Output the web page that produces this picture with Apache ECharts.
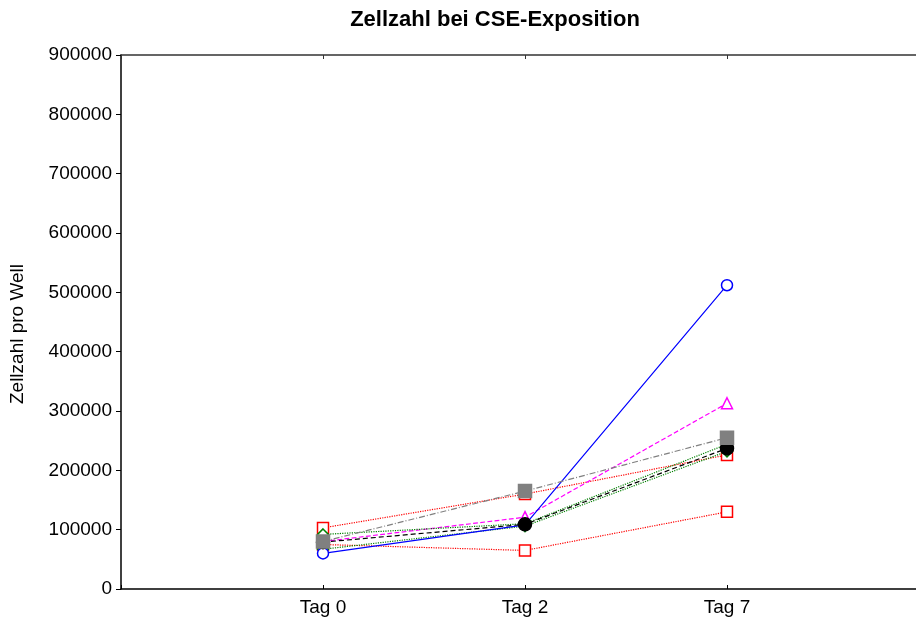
<!DOCTYPE html>
<html>
<head>
<meta charset="utf-8">
<script src="https://cdn.jsdelivr.net/npm/echarts@6/dist/echarts.min.js"></script>
<style>
  html, body { margin: 0; padding: 0; background: #fff; }
  #container { width: 916px; height: 625px; }
</style>
</head>
<body>
<div id="container"></div>
<script>
(function(){
    var dom = document.getElementById("container");
    var myChart = echarts.init(dom);

    // Kategorien (x-Positionen 1..3 auf der Achse 0..4)
    var tage = ['Tag 0', 'Tag 2', 'Tag 7'];
    var yTicks = [0, 100000, 200000, 300000, 400000, 500000, 600000, 700000, 800000, 900000];

    // Messwerte je Ansatz
    var blau    = [60000, 108000, 512000];
    var magenta = [80000, 121000, 313000];
    var grau    = [80000, 165000, 255000];
    var rot1    = [103000, 160000, 226000];
    var rot2    = [75000, 65000, 130000];
    var schwarz = [79000, 109000, 237000];
    var gruen1  = [92000, 110000, 244000];
    var gruen2  = [67000, 106000, 232000];

    function pts(arr){
        var out = [];
        for (var i = 0; i < arr.length; i++) {
            out.push([i + 1, arr[i]]);
        }
        return out;
    }

    function mk(name, data, color, type, symbol, size, fill, z){
        return {
            name: name,
            type: 'line',
            data: pts(data),
            symbol: symbol,
            symbolSize: size,
            showSymbol: true,
            animation: false,
            z: z || 2,
            lineStyle: { color: color, width: 1.2, type: type },
            itemStyle: { color: fill, borderColor: color, borderWidth: 1.5 }
        };
    }

    var option = {
        backgroundColor: '#fff',
        title: {
            text: 'Zellzahl bei CSE-Exposition',
            left: 490,
            top: 4,
            textAlign: 'center',
            textStyle: { fontFamily: 'Liberation Sans', fontSize: 22, fontWeight: 'bold', color: '#000' }
        },
        grid: { left: 121, top: 55, bottom: 36, right: -13, outerBoundsMode: 'none' },
        xAxis: [{
            type: 'value',
            min: 0, max: 4, interval: 1,
            position: 'bottom',
            axisLine: { lineStyle: { color: '#000', width: 1.5 } },
            axisTick: { inside: true, length: 4, lineStyle: { color: '#000' } },
            splitLine: { show: false },
            axisLabel: {
                color: '#000', fontFamily: 'Liberation Sans', fontSize: 19, margin: 9,
                formatter: function(v){ return tage[v - 1] || ''; }
            }
        }, {
            type: 'value',
            min: 0, max: 4, interval: 1,
            position: 'top',
            axisLine: { lineStyle: { color: '#333', width: 1.5 } },
            axisTick: { inside: true, length: 4, lineStyle: { color: '#333' } },
            splitLine: { show: false },
            axisLabel: { show: false }
        }],
        yAxis: {
            type: 'value',
            min: 0, max: 900000, interval: 100000,
            name: 'Zellzahl pro Well',
            nameLocation: 'middle',
            nameGap: 94,
            nameTextStyle: { color: '#000', fontFamily: 'Liberation Sans', fontSize: 19, padding: [0, 24, 0, 0] },
            axisLine: { show: true, lineStyle: { color: '#000', width: 1.5 } },
            axisTick: { show: true, length: 5, lineStyle: { color: '#000' } },
            splitLine: { show: false },
            axisLabel: {
                color: '#000', fontFamily: 'Liberation Sans', fontSize: 19, margin: 9,
                formatter: function(v){ return yTicks.indexOf(v) >= 0 ? String(v) : ''; }
            }
        },
        series: [
            mk('rot2', rot2, '#ff0000', 'dotted', 'rect', 11, '#fff'),
            mk('rot1', rot1, '#ff0000', 'dotted', 'rect', 11, '#fff'),
            mk('magenta', magenta, '#ff00ff', 'dashed', 'triangle', 11, '#fff'),
            mk('gruen2', gruen2, '#008000', 'dotted', 'diamond', 11, '#fff', 3),
            mk('gruen1', gruen1, '#008000', 'dotted', 'diamond', 11, '#fff', 3),
            mk('blau', blau, '#0000ff', 'solid', 'circle', 11, '#fff', 4),
            mk('schwarz', schwarz, '#000000', [5, 3], 'circle', 13, '#000', 5),
            mk('grau', grau, '#808080', [6, 2, 1, 2], 'rect', 13, '#808080', 6)
        ]
    };

    myChart.setOption(option, true);
    window.onresize = myChart.resize;
}());
</script>
</body>
</html>
